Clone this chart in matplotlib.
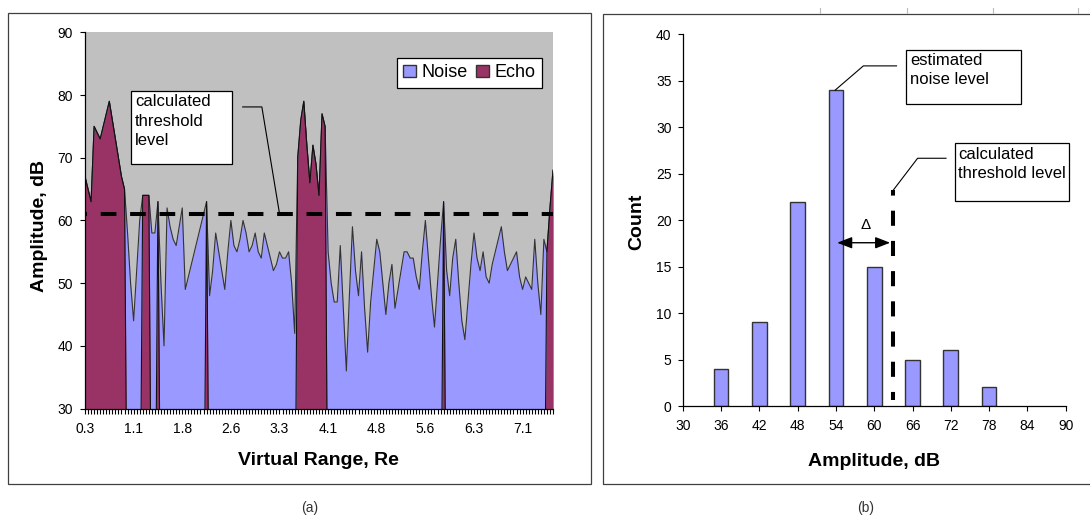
import numpy as np
import matplotlib
matplotlib.use('Agg')
import matplotlib.pyplot as plt
from matplotlib.patches import Rectangle, Patch
from matplotlib.lines import Line2D

plt.rcParams['font.family'] = ['Liberation Sans', 'DejaVu Sans']

# ---- (a) received amplitude along the virtual range, one value per range cell (dB)
amplitude = [67, 65, 63, 75, 74, 73, 75, 77, 79, 76, 73, 70, 67, 65, 58, 50, 44, 52, 60, 64,
             64, 64, 58, 58, 63, 50, 40, 62, 59, 57, 56, 59, 62, 49, 51, 53, 55, 57, 59, 61,
             63, 48, 52, 58, 55, 52, 49, 55, 60, 56, 55, 57, 60, 58, 55, 56, 58, 55, 54, 58,
             56, 54, 52, 53, 55, 54, 54, 55, 50, 42, 70, 76, 79, 72, 66, 72, 69, 64, 77, 75,
             55, 50, 47, 47, 56, 46, 36, 48, 59, 52, 48, 55, 46, 39, 47, 52, 57, 55, 50, 45,
             50, 53, 46, 49, 52, 55, 55, 54, 54, 51, 49, 55, 60, 54, 48, 43, 50, 57, 63, 52,
             48, 54, 57, 50, 44, 41, 47, 53, 58, 54, 52, 55, 51, 50, 53, 55, 57, 59, 55, 52,
             53, 54, 55, 51, 49, 51, 50, 49, 57, 50, 45, 57, 55, 62, 68]
# range cells (first, last) classified as echo
echo_spans = [(0, 13), (19, 21), (24, 24), (40, 40), (70, 79), (118, 118), (152, 154)]
range_labels = ['0.3', '1.1', '1.8', '2.6', '3.3', '4.1', '4.8', '5.6', '6.3', '7.1']
threshold_a = 61

# ---- (b) amplitude histogram
amp_bins = [36, 42, 48, 54, 60, 66, 72, 78]
counts = [4, 9, 22, 34, 15, 5, 6, 2]
threshold_b = 63

W, H = 1090, 521
noise_col = '#9999ff'
echo_col = '#993366'

fig = plt.figure(figsize=(W / 100, H / 100), dpi=100)


def px(x, y):
    # pixel position -> figure fraction
    return x / W, 1 - y / H


# panel frames
for (x0, y0, x1, y1) in [(8.3, 12.7, 591, 484), (602.7, 14, 1096, 484)]:
    fig.add_artist(Rectangle(px(x0, y1), (x1 - x0) / W, (y1 - y0) / H, transform=fig.transFigure,
                             fill=False, edgecolor='#404040', lw=0.9))
for xm in [820, 906.7, 992.7, 1078]:
    fig.add_artist(Line2D([xm / W, xm / W], [1 - 8 / H, 1 - 13 / H], transform=fig.transFigure,
                          color='#bbbbbb', lw=0.8))

# ---------------- (a) ----------------
idx = np.arange(len(amplitude))
noise = np.array(amplitude, dtype=float)
echo = np.zeros_like(noise)
for a, b in echo_spans:
    echo[a:b + 1] = noise[a:b + 1]

ax1 = fig.add_axes([85 / W, 1 - 408.6 / H, 468 / W, 376.3 / H])
ax1.set_facecolor('#c0c0c0')
ax1.fill_between(idx, 0, noise, color=noise_col, lw=0)
ax1.plot(idx, noise, color='#333333', lw=0.8)
ax1.fill_between(idx, 0, echo, color=echo_col, lw=0)
ax1.plot(idx, echo, color='#111111', lw=0.8)
ax1.axhline(threshold_a, color='k', lw=2.9, linestyle=(3.4, (3.9, 3.4)))

ax1.set_xlim(0, len(amplitude) - 1)
ax1.set_ylim(30, 90)
ax1.set_yticks(range(30, 91, 10))
ax1.set_xticks(idx[::16])
ax1.set_xticklabels(range_labels)
ax1.set_xticks(idx, minor=True)
for s in ['top', 'right']:
    ax1.spines[s].set_visible(False)
for s in ['left', 'bottom']:
    ax1.spines[s].set_linewidth(0.9)
ax1.tick_params(axis='both', which='both', direction='out', length=3.3, width=0.8, labelsize=10)
ax1.tick_params(axis='x', which='both', pad=6.5)
ax1.tick_params(axis='y', pad=5.5)

ax1.set_xlabel('Virtual Range, Re', fontsize=14, fontweight='bold', va='center')
ax1.xaxis.set_label_coords(0.498, -0.139)
ax1.set_ylabel('Amplitude, dB', fontsize=14, fontweight='bold', va='center')
ax1.yaxis.set_label_coords(-0.098, 0.485)

handles = [Patch(facecolor=noise_col, edgecolor='#333333', label='Noise'),
           Patch(facecolor=echo_col, edgecolor='#333333', label='Echo')]
leg = ax1.legend(handles=handles, loc='upper right', bbox_to_anchor=(0.976, 0.932), ncol=2,
                 fontsize=13, frameon=True, fancybox=False, framealpha=1, edgecolor='k',
                 borderpad=0.35, handlelength=0.7, handleheight=0.7, handletextpad=0.3,
                 columnspacing=0.5, borderaxespad=0)
leg.get_frame().set_linewidth(0.9)

# callout: calculated threshold level
ax1.add_patch(Rectangle((15.05, 69.0), 33.45, 11.69, facecolor='white', edgecolor='k', lw=0.9,
                        zorder=5))
ax1.text(16.5, 80.1, 'calculated\nthreshold\nlevel', fontsize=12, va='top', ha='left',
         linespacing=1.35, zorder=6)
ax1.plot([51.9, 58.2, 64.0], [78.1, 78.1, 61.1], color='k', lw=0.8, zorder=6)

fig.text(*px(310, 508), '(a)', fontsize=10, ha='center', va='center', color='#333333')

# ---------------- (b) ----------------
ax2 = fig.add_axes([682.7 / W, 1 - 406 / H, 383 / W, 371.7 / H])
ax2.bar(amp_bins, counts, width=2.3, color=noise_col, edgecolor='#333333', lw=1)
ax2.plot([threshold_b, threshold_b], [0.6, 23.25], color='k', lw=2.9,
         linestyle=(1.75, (3.75, 3.75)))
ax2.set_xlim(30, 90)
ax2.set_ylim(0, 40)
ax2.set_xticks(range(30, 91, 6))
ax2.set_yticks(range(0, 41, 5))
for s in ['top', 'right']:
    ax2.spines[s].set_visible(False)
for s in ['left', 'bottom']:
    ax2.spines[s].set_linewidth(0.9)
ax2.tick_params(axis='both', direction='out', length=3.6, width=0.8, labelsize=10)
ax2.tick_params(axis='x', pad=6)
ax2.tick_params(axis='y', pad=4.5)
ax2.set_xlabel('Amplitude, dB', fontsize=14, fontweight='bold', va='center')
ax2.xaxis.set_label_coords(0.4995, -0.148)
ax2.set_ylabel('Count', fontsize=14, fontweight='bold', va='center')
ax2.yaxis.set_label_coords(-0.119, 0.496)

# delta arrow between noise level and threshold
ax2.annotate('', xy=(62.5, 17.57), xytext=(54.2, 17.57),
             arrowprops=dict(arrowstyle='<|-|>, head_length=0.9, head_width=0.35',
                             mutation_scale=10, color='k', lw=1, shrinkA=0, shrinkB=0))
ax2.text(58.6, 19.5, '\u0394', fontsize=11, ha='center', va='center')

# callout: estimated noise level
ax2.add_patch(Rectangle((64.98, 32.5), 17.97, 5.81, facecolor='white', edgecolor='k', lw=0.9,
                        clip_on=False, zorder=5))
ax2.text(65.6, 38.0, 'estimated\nnoise level', fontsize=12, va='top', ha='left',
         linespacing=1.35, zorder=6)
ax2.plot([53.9, 58.3, 63.5], [34.0, 36.6, 36.6], color='k', lw=0.8, clip_on=False)

# callout: calculated threshold level
ax2.add_patch(Rectangle((72.66, 22.09), 17.91, 6.24, facecolor='white', edgecolor='k', lw=0.9,
                        clip_on=False, zorder=5))
ax2.text(73.1, 27.9, 'calculated\nthreshold level', fontsize=12, va='top', ha='left',
         linespacing=1.35, zorder=6, clip_on=False)
ax2.plot([63.0, 66.8, 71.25], [23.24, 26.66, 26.66], color='k', lw=0.8, clip_on=False)

fig.text(*px(866, 508), '(b)', fontsize=10, ha='center', va='center', color='#333333')

fig.savefig('out.png', dpi=100)
